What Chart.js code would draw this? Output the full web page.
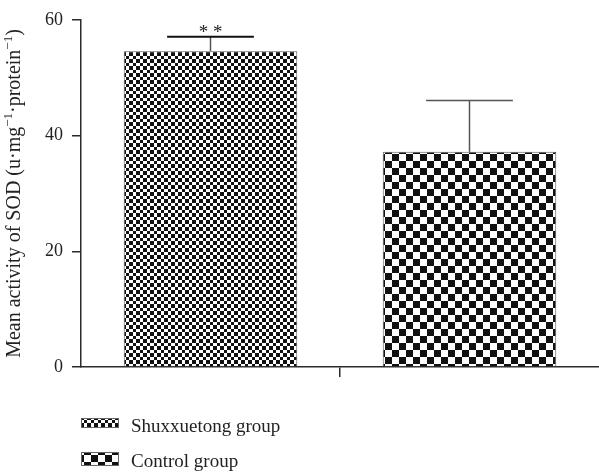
<!DOCTYPE html>
<html>
<head>
<meta charset="utf-8">
<style>
  html, body { margin: 0; padding: 0; background: #fff; }
  canvas { display: block; }
</style>
<script src="https://cdn.jsdelivr.net/npm/chart.js@4/dist/chart.umd.min.js"></script>
</head>
<body>
<canvas id="sod" width="599" height="472"></canvas>
<script>
// SOD activity by group: mean and error (upper whisker only)
const categories = [''];
const groupNames = ['Shuxxuetong group', 'Control group'];
const meanValues = [54.6, 37.2];
const errorValues = [2.5, 8.9];
const significance = ['**', ''];
const yTicks = [0, 20, 40, 60];

const SERIF = '"Liberation Serif", "DejaVu Serif", serif';
const INK = '#2b2b2b';

// checkerboard fills
function checker(cellA, cellB) {
  const size = cellA + cellB;
  const c = document.createElement('canvas');
  c.width = size; c.height = size;
  const g = c.getContext('2d');
  g.fillStyle = '#fff';
  g.fillRect(0, 0, size, size);
  g.fillStyle = '#111';
  g.fillRect(0, 0, cellA, cellA);
  g.fillRect(cellA, cellA, cellB, cellB);
  return g.createPattern(c, 'repeat');
}
const ctx0 = document.getElementById('sod').getContext('2d');
const fills = [checker(3, 4), checker(7, 7)];

// upper error bars and significance marks
const errorBars = {
  id: 'errorBars',
  afterDatasetsDraw(chart) {
    const ctx = chart.ctx;
    const y = chart.scales.y;
    chart.data.datasets.forEach((ds, i) => {
      const bar = chart.getDatasetMeta(i).data[0];
      const top = y.getPixelForValue(meanValues[i] + errorValues[i]);
      const half = bar.width / 4;
      ctx.save();
      ctx.strokeStyle = '#555';
      ctx.lineWidth = 1.5;
      ctx.beginPath();
      ctx.moveTo(bar.x, bar.y);
      ctx.lineTo(bar.x, top);
      ctx.stroke();
      ctx.strokeStyle = significance[i] ? '#111' : '#555';
      ctx.lineWidth = significance[i] ? 2.2 : 1.5;
      ctx.beginPath();
      ctx.moveTo(bar.x - half, top);
      ctx.lineTo(bar.x + half, top);
      ctx.stroke();
      if (significance[i]) {
        ctx.fillStyle = '#222';
        ctx.font = '19px ' + SERIF;
        ctx.textAlign = 'center';
        ctx.textBaseline = 'alphabetic';
        ctx.fillText(significance[i].split('').join(' '), bar.x, top + 1);
      }
      ctx.restore();
    });
  }
};

// rotated y-axis title with superscripts
const yTitle = {
  id: 'yTitle',
  afterDraw(chart) {
    const ctx = chart.ctx;
    const parts = [
      ['Mean activity of SOD (u\u00b7mg', false],
      ['\u22121', true],
      ['\u00b7protein', false],
      ['\u22121', true],
      [')', false]
    ];
    const base = '20px ' + SERIF, sup = '13px ' + SERIF;
    ctx.save();
    let total = 0;
    parts.forEach(([t, s]) => { ctx.font = s ? sup : base; total += ctx.measureText(t).width; });
    const area = chart.chartArea;
    const cy = (area.top + area.bottom) / 2;
    ctx.translate(20, cy);
    ctx.rotate(-Math.PI / 2);
    ctx.fillStyle = '#222';
    ctx.textBaseline = 'alphabetic';
    ctx.textAlign = 'left';
    let x = -total / 2;
    parts.forEach(([t, s]) => {
      ctx.font = s ? sup : base;
      ctx.fillText(t, x, s ? -8 : 0);
      x += ctx.measureText(t).width;
    });
    ctx.restore();
  }
};

// stacked legend below the plot
const stackedLegend = {
  id: 'stackedLegend',
  afterDraw(chart) {
    const ctx = chart.ctx;
    const rows = [{ y: 418, h: 10, base: 432 }, { y: 452, h: 14, base: 467 }];
    ctx.save();
    chart.data.datasets.forEach((ds, i) => {
      const r = rows[i];
      ctx.fillStyle = ds.backgroundColor;
      ctx.fillRect(81, r.y, 38, r.h);
      ctx.strokeStyle = '#666';
      ctx.lineWidth = 1;
      ctx.strokeRect(81.5, r.y + 0.5, 37, r.h - 1);
      ctx.fillStyle = '#222';
      ctx.font = '19px ' + SERIF;
      ctx.textBaseline = 'alphabetic';
      ctx.textAlign = 'left';
      ctx.fillText(ds.label, 131, r.base);
    });
    ctx.restore();
  }
};

new Chart(ctx0, {
  type: 'bar',
  data: {
    labels: categories,
    datasets: groupNames.map((name, i) => ({
      label: name,
      data: [meanValues[i]],
      backgroundColor: fills[i],
      borderColor: '#555',
      borderWidth: 1,
      categoryPercentage: 1,
      barPercentage: 0.67
    }))
  },
  options: {
    responsive: false,
    animation: false,
    devicePixelRatio: 1,
    layout: { padding: { top: 20, right: 0, bottom: 85, left: 0 } },
    plugins: { legend: { display: false }, tooltip: { enabled: false } },
    scales: {
      x: {
        offset: true,
        grid: { offset: false, drawOnChartArea: false, drawTicks: true, tickLength: 10, color: INK, lineWidth: 1.5 },
        border: { display: true, color: INK, width: 1.5 },
        ticks: { display: false },
        afterFit(scale) { scale.height = 20; }
      },
      y: {
        min: 0,
        max: 60,
        afterBuildTicks(scale) { scale.ticks = yTicks.map(v => ({ value: v })); },
        grid: { drawOnChartArea: false, drawTicks: true, tickLength: 9, color: INK, lineWidth: 1.5 },
        border: { display: true, color: INK, width: 1.5 },
        ticks: { color: '#222', padding: 9, font: { family: SERIF, size: 18 } },
        afterFit(scale) { scale.width = 81; }
      }
    }
  },
  plugins: [errorBars, yTitle, stackedLegend]
});
</script>
</body>
</html>
